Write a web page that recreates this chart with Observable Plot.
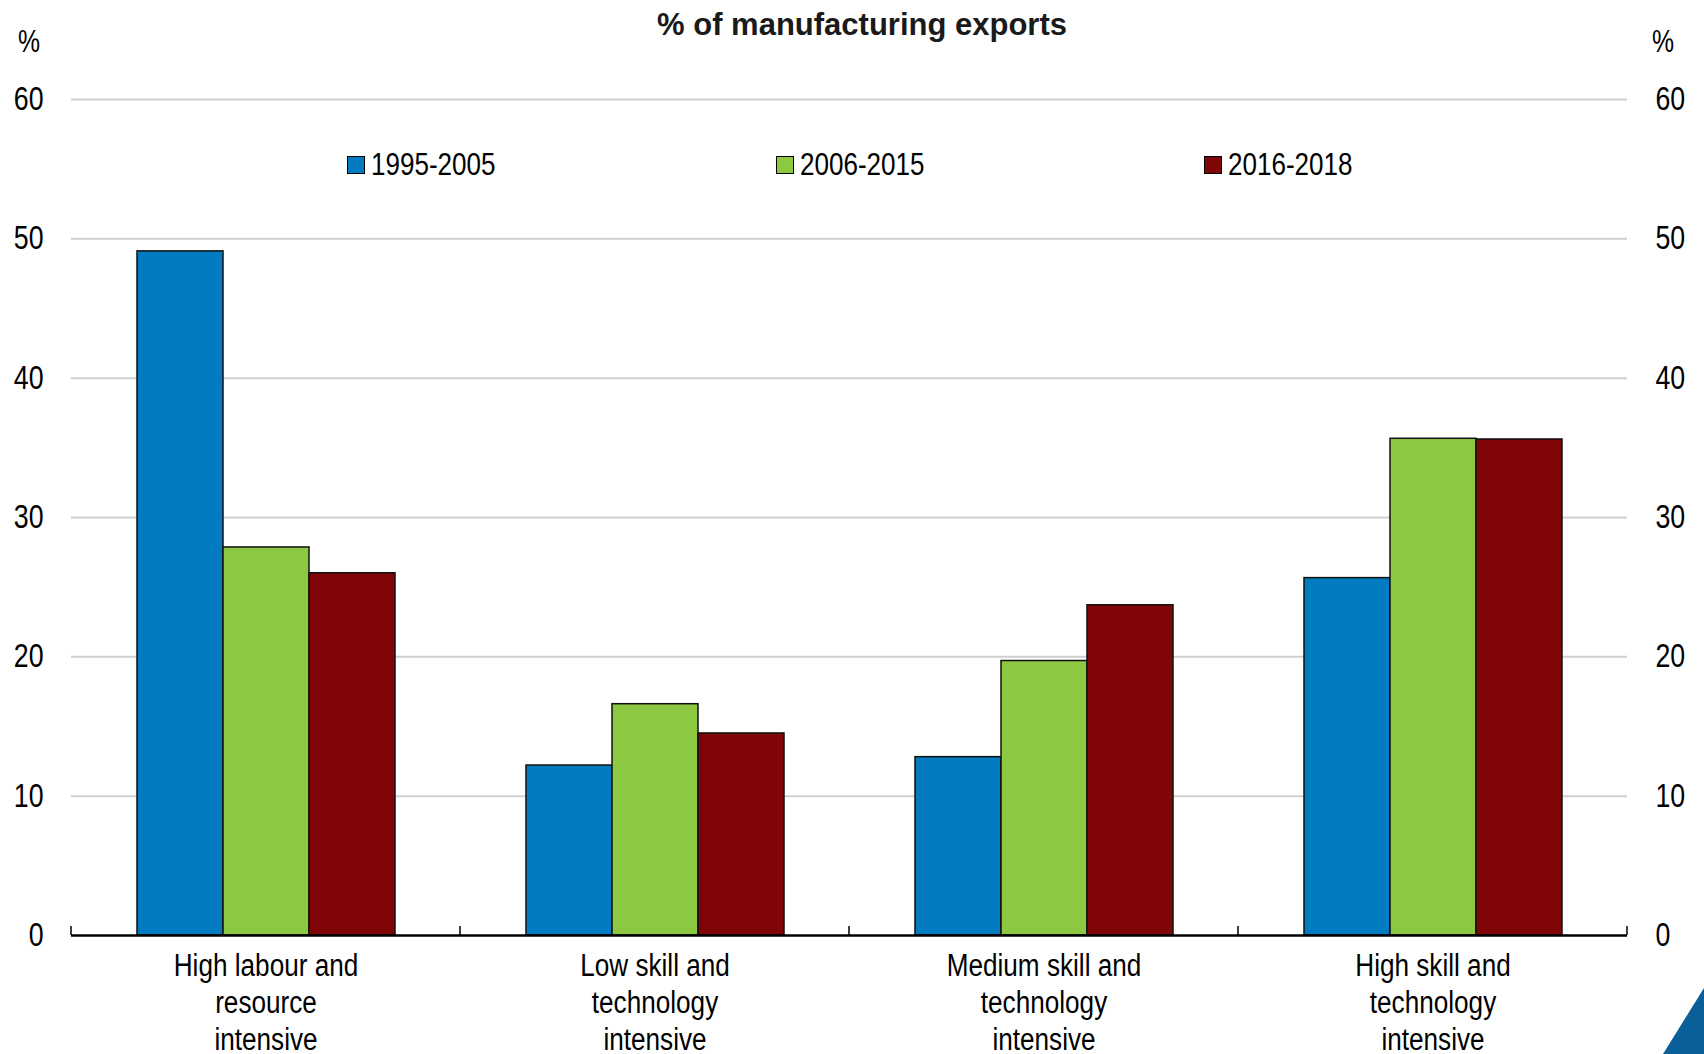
<!DOCTYPE html>
<html>
<head>
<meta charset="utf-8">
<script src="https://cdn.jsdelivr.net/npm/d3@7"></script>
<script src="https://cdn.jsdelivr.net/npm/@observablehq/plot@0.6"></script>
<style>
  html, body { margin: 0; padding: 0; background: #fff; }
  #wrap { position: relative; width: 1704px; height: 1054px; overflow: hidden; }
  #title { position: absolute; top: 7px; left: 10px; width: 1704px; text-align: center;
    font-family: "Liberation Sans", Arial, sans-serif; font-weight: bold; font-size: 31px; color: #1a1a1a; line-height: 36px; }
  .unit { position: absolute; top: 25px; font-family: "Liberation Sans", Arial, sans-serif; font-size: 31px; line-height: 34px; color: #000;
    transform: scaleX(0.8); transform-origin: center; width: 30px; text-align: center; }
  #legend { position: absolute; top: 148px; left: 0; width: 1704px; height: 34px;
    font-family: "Liberation Sans", Arial, sans-serif; font-size: 31px; color: #000; }
  .item { position: absolute; top: 0; display: flex; align-items: center; height: 34px; }
  .sw { width: 18px; height: 18px; border: 1.5px solid #000; box-sizing: border-box; margin-right: 6px; flex: none; }
  .lt { display: inline-block; transform: scaleX(0.84); transform-origin: left center; white-space: nowrap; }
  #corner { position: absolute; right: 0; bottom: 0; }
</style>
</head>
<body>
<div id="wrap">
  <div id="title"></div>
  <div class="unit" style="left:14px">%</div>
  <div class="unit" style="left:1648px">%</div>
  <div id="chart"></div>
  <div id="legend"></div>
  <svg id="corner" width="44" height="66"><polygon points="3,66 44,0 44,66" fill="#0a5f98"></polygon></svg>
</div>
<script>
const title = "% of manufacturing exports";
const categories = ["High labour and resource intensive", "Low skill and technology intensive", "Medium skill and technology intensive", "High skill and technology intensive"];
const categoryLabels = ["High labour and\nresource\nintensive", "Low skill and\ntechnology\nintensive", "Medium skill and\ntechnology\nintensive", "High skill and\ntechnology\nintensive"];
const series = ["1995-2005", "2006-2015", "2016-2018"];
const colors = ["#037bc1", "#8cc841", "#7f0506"];
const values1995 = [49.1, 12.2, 12.8, 25.65];
const values2006 = [27.85, 16.6, 19.7, 35.65];
const values2016 = [26.0, 14.5, 23.7, 35.6];
const yTicks = [0, 10, 20, 30, 40, 50, 60];

const allValues = [values1995, values2006, values2016];
const data = [];
categories.forEach((c, i) => series.forEach((s, j) => data.push({category: c, series: s, value: allValues[j][i]})));

document.getElementById("title").textContent = title;

const font = '"Liberation Sans", Arial, sans-serif';

const plot = Plot.plot({
  width: 1704,
  height: 1054,
  marginTop: 99,
  marginBottom: 119,
  marginLeft: 71,
  marginRight: 77,
  style: {fontFamily: font, fontSize: "31px", color: "#000", background: "transparent"},
  fx: {domain: categories, padding: 0, label: null},
  x: {domain: series, paddingInner: 0, paddingOuter: 0.736, axis: null},
  y: {domain: [0, 60], label: null},
  color: {domain: series, range: colors},
  marks: [
    Plot.gridY(yTicks.slice(1), {stroke: "#cfcfcf", strokeOpacity: 1, strokeWidth: 2}),
    Plot.barY(data, {fx: "category", x: "series", y: "value", fill: "series", stroke: "#111", strokeWidth: 1.5}),
    Plot.ruleY([0], {stroke: "#000", strokeWidth: 2.5}),
    Plot.axisY({anchor: "left", ticks: yTicks, tickSize: 0, tickPadding: 28, fontSize: 33, label: null}),
    Plot.axisY({anchor: "right", ticks: yTicks, tickSize: 0, tickPadding: 28, fontSize: 33, label: null}),
    Plot.axisFx({anchor: "bottom", tickSize: 0, tickPadding: 14, fontSize: 31.5, lineHeight: 1.18, tickFormat: (d) => categoryLabels[categories.indexOf(d)], label: null})
  ]
});
document.getElementById("chart").appendChild(plot);

// condense the text horizontally (narrow face look) around each label's anchor
plot.querySelectorAll("text").forEach((t) => {
  const tr = t.getAttribute("transform") || "";
  const isCat = t.textContent.length > 3;
  t.setAttribute("transform", (tr + (isCat ? " scale(0.83,1)" : " scale(0.81,1)")).trim());
});

// boundary ticks between category groups, placed from Plot's own scales
const fx = plot.scale("fx");
const y = plot.scale("y");
const edges = categories.map((c) => fx.apply(c)).concat([fx.apply(categories[categories.length - 1]) + fx.bandwidth]);
d3.select(plot).append("g")
  .selectAll("line").data(edges).join("line")
  .attr("x1", (d) => d).attr("x2", (d) => d)
  .attr("y1", y.apply(0)).attr("y2", y.apply(0) - 9)
  .attr("stroke", "#000").attr("stroke-width", 1.5);

// legend
const legendX = [347, 776, 1204];
const legend = document.getElementById("legend");
series.forEach((s, i) => {
  const it = document.createElement("div");
  it.className = "item";
  it.style.left = legendX[i] + "px";
  it.innerHTML = `<div class="sw" style="background:${colors[i]}"></div><span class="lt">${s}</span>`;
  legend.appendChild(it);
});
</script>
</body>
</html>
